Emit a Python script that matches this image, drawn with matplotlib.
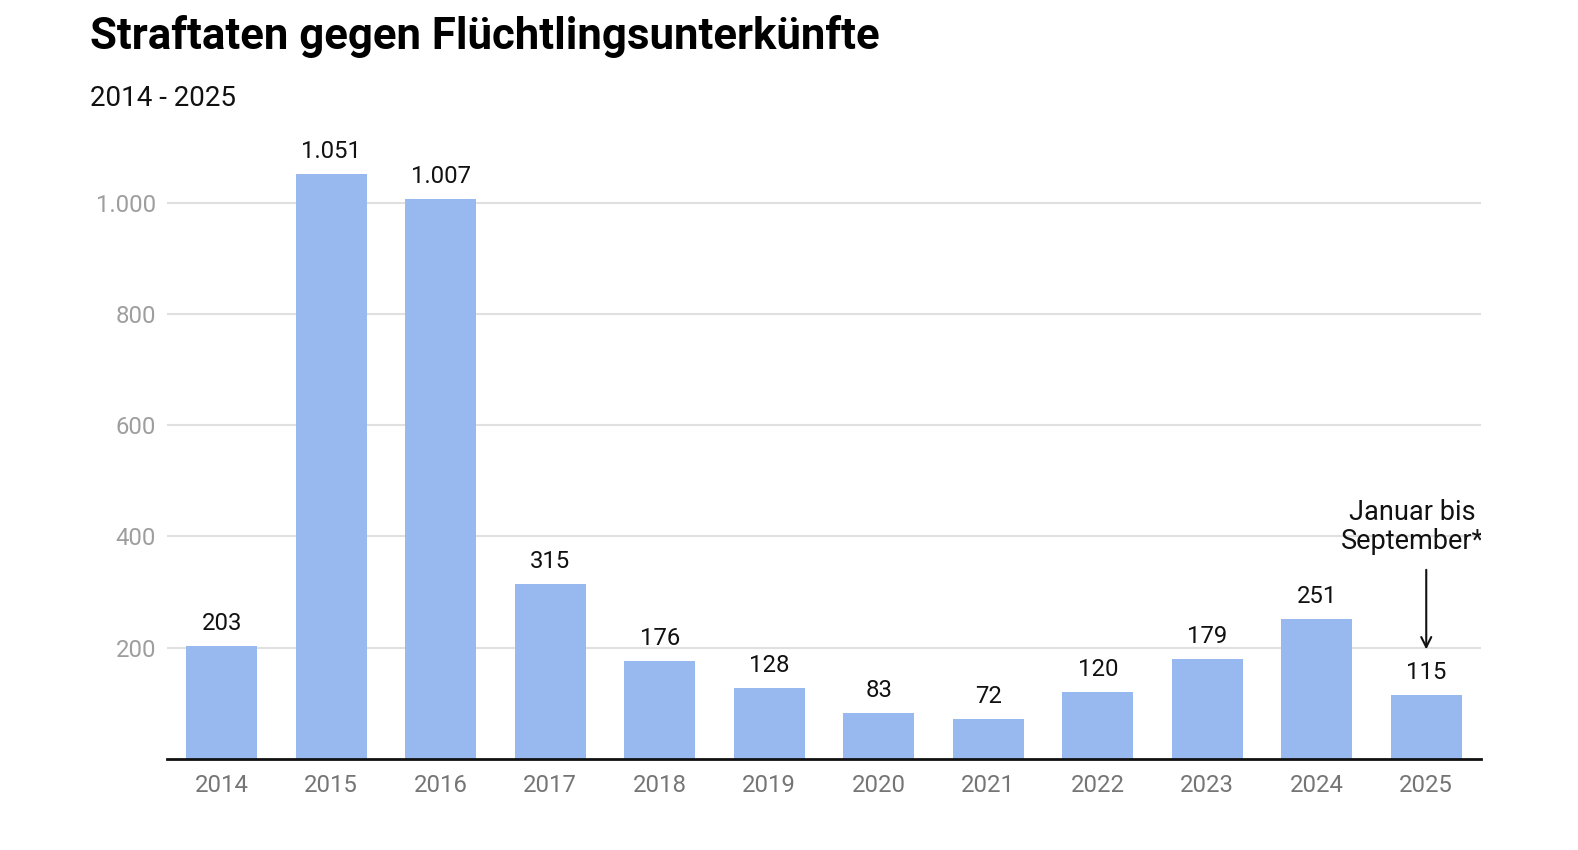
import matplotlib
matplotlib.use("Agg")
import matplotlib.pyplot as plt

years = ["2014", "2015", "2016", "2017", "2018", "2019", "2020", "2021", "2022", "2023", "2024", "2025"]
values = [203, 1051, 1007, 315, 176, 128, 83, 72, 120, 179, 251, 115]
yticks = [200, 400, 600, 800, 1000]
title = "Straftaten gegen Flüchtlingsunterkünfte"
subtitle = "2014 - 2025"
note = "Januar bis\nSeptember*"

def fmt(v):
    return f"{v:,}".replace(",", ".")

plt.rcParams['font.family'] = ['Roboto', 'DejaVu Sans']

fig = plt.figure(figsize=(15.78, 8.5), dpi=100)
ax = fig.add_axes([167/1578, 1-759/850, (1481-167)/1578, (759-147)/850])

x = list(range(len(years)))
ax.bar(x, values, width=0.65, color="#97b9f0", zorder=2)
ax.set_xlim(-0.5, len(years)-0.5)
ax.set_ylim(0, 1100)

ax.set_yticks(yticks)
ax.set_yticklabels([fmt(v) for v in yticks], fontsize=17.2, color="#9e9e9e")
ax.set_xticks(x)
ax.set_xticklabels(years, fontsize=17.2, color="#757575")
ax.tick_params(axis='both', length=0)
ax.tick_params(axis='y', pad=8)
ax.tick_params(axis='x', pad=11)
ax.grid(axis='y', color="#e0e0e0", lw=1.5, zorder=0)
for s in ['top', 'right', 'left']:
    ax.spines[s].set_visible(False)
ax.spines['bottom'].set_color('#111111')
ax.spines['bottom'].set_linewidth(2)
ax.spines['bottom'].set_zorder(3)

for xi, v in zip(x, values):
    ax.annotate(fmt(v), (xi, v), xytext=(0, 8), textcoords='offset points',
                ha='center', va='bottom', fontsize=17.2, color='#111111')

ax.annotate("", xy=(11, 192), xytext=(11, 345),
            arrowprops=dict(arrowstyle='->', color='#111111', lw=1.5, mutation_scale=18))
t = ax.text(10.87, 366, note, ha='center', va='bottom', fontsize=19.5, color='#111111',
            linespacing=1.1, clip_on=True)

fig.text(90/1578, 1-37/850, title, fontsize=31.5, fontweight='bold', va='center', ha='left', color='#000000')
fig.text(90/1578, 1-99/850, subtitle, fontsize=20, va='center', ha='left', color='#111111')

fig.savefig("out.png", dpi=100, facecolor='white')
